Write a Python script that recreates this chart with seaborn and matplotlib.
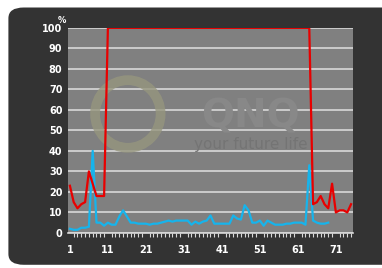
import seaborn as sns
import matplotlib.pyplot as plt
import pandas as pd
import numpy as np
from matplotlib.patches import FancyBboxPatch, Ellipse

# ---- data ----
red_vals = [23, 15, 12, 14, 15, 30, 24, 18, 18, 18] + [100] * 54 + \
           [14, 15, 18, 14, 12, 24, 10, 11, 11, 10, 14]
blue_vals = [2, 1.5, 1.5, 2.5, 2.5, 3, 40, 5, 5, 3.5,
             5, 4, 4, 8, 11, 8, 5, 5, 4.5, 4.5,
             4.5, 4, 4.5, 4.5, 5, 5.5, 6, 5.5, 6, 6,
             6, 6, 4, 5.5, 4.5, 5.5, 6, 8.5, 4.5, 4.5,
             4.5, 4.5, 4.5, 8.5, 7, 6.5, 13.5, 11, 5, 5,
             6, 3.5, 6, 5, 4, 4, 4, 4.5, 4.5, 5,
             5, 5, 4, 33, 6, 5, 4.5, 4.5, 5]
x_ticks = [1, 11, 21, 31, 41, 51, 61, 71]
y_ticks = [0, 10, 20, 30, 40, 50, 60, 70, 80, 90, 100]

red_df = pd.DataFrame({"idx": np.arange(1, len(red_vals) + 1), "val": red_vals})
blue_df = pd.DataFrame({"idx": np.arange(1, len(blue_vals) + 1), "val": blue_vals})

fig = plt.figure(figsize=(3.82, 2.68), dpi=100)
fig.patch.set_facecolor("white")

# dark rounded panel behind the chart
panel = FancyBboxPatch((0.022, 0.012), 1.05, 0.96,
                       boxstyle="round,pad=0,rounding_size=0.04",
                       transform=fig.transFigure, facecolor="#333333",
                       edgecolor="none", zorder=-10)
fig.add_artist(panel)

ax = fig.add_axes([0.178, 0.131, 0.746, 0.765])
ax.set_facecolor("#808080")

# faint watermark logo
ring = Ellipse((0.21, 0.58), 0.23, 0.33, transform=ax.transAxes, fill=False,
               edgecolor="#96967e", linewidth=7, alpha=0.8, zorder=1)
ax.add_patch(ring)
ax.text(0.64, 0.57, "QNQ", transform=ax.transAxes, fontsize=28, fontweight="bold",
        color="#888888", ha="center", va="center", zorder=1)
ax.text(0.64, 0.43, "your future life", transform=ax.transAxes, fontsize=11,
        color="#747474", ha="center", va="center", zorder=1)

sns.lineplot(data=red_df, x="idx", y="val", color="#e80000", linewidth=1.6, ax=ax, zorder=4)
sns.lineplot(data=blue_df, x="idx", y="val", color="#16b4ec", linewidth=1.6, ax=ax, zorder=3)

ax.set_xlim(0.5, 75.5)
ax.set_ylim(0, 100)
ax.set_yticks(y_ticks)
ax.set_xticks(x_ticks)
ax.set_xticks(np.arange(1, 76), minor=True)
ax.grid(axis="y", color="#d8d8d8", linewidth=1.2, zorder=2)
ax.set_axisbelow(True)
for s in ["top", "right", "left"]:
    ax.spines[s].set_visible(False)
ax.spines["bottom"].set_color("#d8d8d8")
ax.spines["bottom"].set_linewidth(1.2)
ax.tick_params(axis="y", length=0, labelsize=7, labelcolor="white", pad=4)
ax.tick_params(axis="x", which="major", length=0, labelsize=7, labelcolor="white", pad=9)
ax.tick_params(axis="x", which="minor", length=3, color="#d8d8d8", width=0.8, direction="out")
for lab in ax.get_xticklabels() + ax.get_yticklabels():
    lab.set_fontweight("bold")
ax.set_xlabel("")
ax.set_ylabel("")
ax.text(-0.02, 1.035, "%", transform=ax.transAxes, fontsize=6, fontweight="bold",
        color="white", ha="center", va="center")

fig.savefig("out.png", dpi=100)
